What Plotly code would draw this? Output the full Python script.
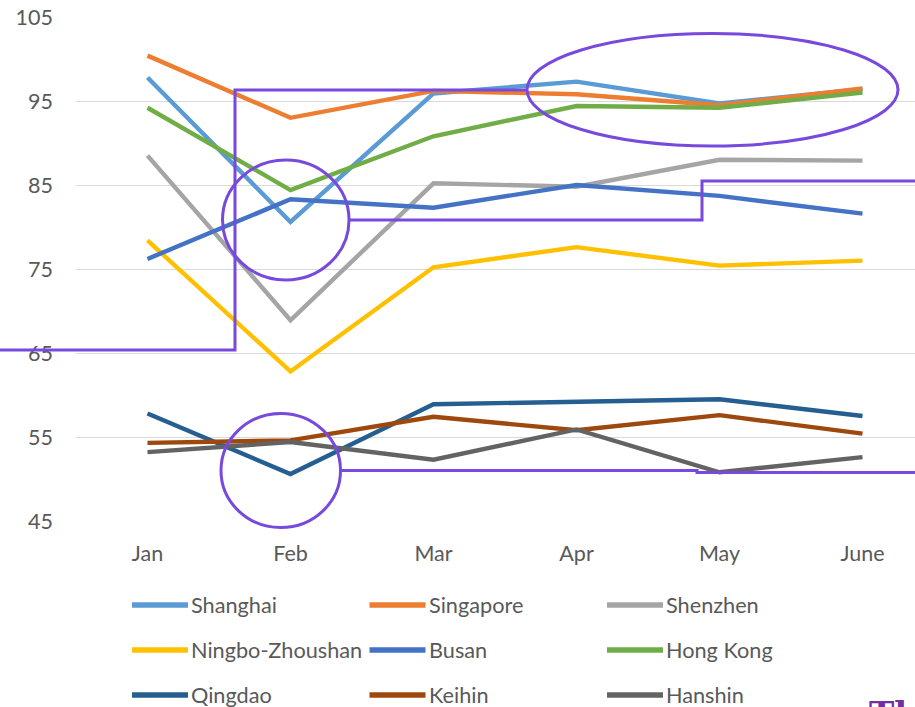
import plotly.graph_objects as go

# Monthly index by port
months = ["Jan", "Feb", "Mar", "Apr", "May", "June"]
ports = ["Shanghai", "Singapore", "Shenzhen", "Ningbo-Zhoushan", "Busan",
         "Hong Kong", "Qingdao", "Keihin", "Hanshin"]

shanghai = [97.8, 80.6, 95.9, 97.3, 94.7, 96.4]
singapore = [100.4, 93.0, 96.2, 95.8, 94.5, 96.5]
shenzhen = [88.5, 68.9, 85.2, 84.8, 88.0, 87.9]
ningbo_zhoushan = [78.4, 62.8, 75.2, 77.6, 75.4, 76.0]
busan = [76.2, 83.3, 82.3, 85.0, 83.7, 81.6]
hong_kong = [94.2, 84.4, 90.8, 94.4, 94.2, 96.0]
qingdao = [57.8, 50.6, 58.9, 59.2, 59.5, 57.5]
keihin = [54.3, 54.6, 57.4, 55.8, 57.6, 55.4]
hanshin = [53.2, 54.4, 52.3, 55.9, 50.8, 52.6]

series = [shanghai, singapore, shenzhen, ningbo_zhoushan, busan,
          hong_kong, qingdao, keihin, hanshin]
colors = ["#5B9BD5", "#ED7D31", "#A5A5A5", "#FFC000", "#4472C4",
          "#70AD47", "#255E91", "#9E480E", "#636363"]

y_ticks = [45, 55, 65, 75, 85, 95, 105]

W, H = 915, 707
L, R, T, B = 76, 0, 17, 186
PW, PH = W - L - R, H - T - B
STEP = 143.0  # px per month

FONT = "Lato, 'Open Sans', sans-serif"
TEXT = "#595959"
ACCENT = "#7749DD"


def fx(px):
    """pixel x -> paper x"""
    return (px - L) / PW


def fy(py):
    """pixel y -> paper y"""
    return (T + PH - py) / PH


fig = go.Figure()
for name, vals, col in zip(ports, series, colors):
    fig.add_trace(go.Scatter(
        x=months, y=vals, name=name, mode="lines",
        line=dict(color=col, width=4.4),
        showlegend=False,
    ))

shapes = []
annotations = []

# Legend: 3 x 3 grid of swatches and labels
col_x = [132, 369.5, 607]
row_y = [605, 650, 695]
for i, (name, col) in enumerate(zip(ports, colors)):
    r, c = divmod(i, 3)
    x0 = col_x[c]
    y0 = row_y[r]
    shapes.append(dict(type="line", xref="paper", yref="paper",
                       x0=fx(x0), x1=fx(x0 + 56), y0=fy(y0), y1=fy(y0),
                       line=dict(color=col, width=5.5), layer="above"))
    annotations.append(dict(text=name, xref="paper", yref="paper",
                            x=fx(x0 + 57), y=fy(y0), xanchor="left",
                            yanchor="middle", showarrow=False,
                            font=dict(family=FONT, size=21.7, color=TEXT)))

# Highlight marks
hl = dict(color=ACCENT, width=3)


def path(points):
    d = "M " + " L ".join(f"{fx(a):.5f},{fy(b):.5f}" for a, b in points)
    return dict(type="path", xref="paper", yref="paper", path=d,
                line=hl, layer="above")


shapes.append(path([(-5, 350), (235, 350), (235, 90), (527, 90)]))
shapes.append(path([(349, 220), (702, 220), (702, 181), (920, 181)]))
shapes.append(path([(340.5, 470.5), (697, 470.5), (697, 472.5), (920, 472.5)]))

for (x0, y0, x1, y1) in [(527, 33.5, 898, 146), (222.5, 160, 349, 280),
                         (221, 413.5, 340.5, 527.5)]:
    shapes.append(dict(type="circle", xref="paper", yref="paper",
                       x0=fx(x0), x1=fx(x1), y0=fy(y1), y1=fy(y0),
                       line=hl, layer="above"))

annotations.append(dict(text="<b>Th</b>", xref="paper", yref="paper",
                        x=fx(867), y=fy(692), xanchor="left", yanchor="top",
                        showarrow=False,
                        font=dict(family="'DejaVu Serif', serif", size=34,
                                  color="#7030A0")))

fig.update_layout(
    width=W, height=H,
    margin=dict(l=L, r=R, t=T, b=B, pad=0),
    paper_bgcolor="white", plot_bgcolor="white",
    shapes=shapes, annotations=annotations,
    showlegend=False,
    font=dict(family=FONT, size=21, color=TEXT),
)
fig.update_xaxes(
    type="category", categoryarray=months,
    range=[-0.5, -0.5 + PW / STEP],
    showgrid=False, zeroline=False, showline=False,
    ticks="", ticklabelstandoff=17,
    tickfont=dict(family=FONT, size=21.5, color=TEXT),
)
fig.update_yaxes(
    range=[45, 105], tickvals=y_ticks,
    showgrid=True, gridcolor="#D9D9D9", gridwidth=1.2,
    zeroline=False, showline=False, ticks="",
    ticklabelstandoff=22,
    tickfont=dict(family=FONT, size=21.5, color=TEXT),
)

fig.write_html("out.html")
